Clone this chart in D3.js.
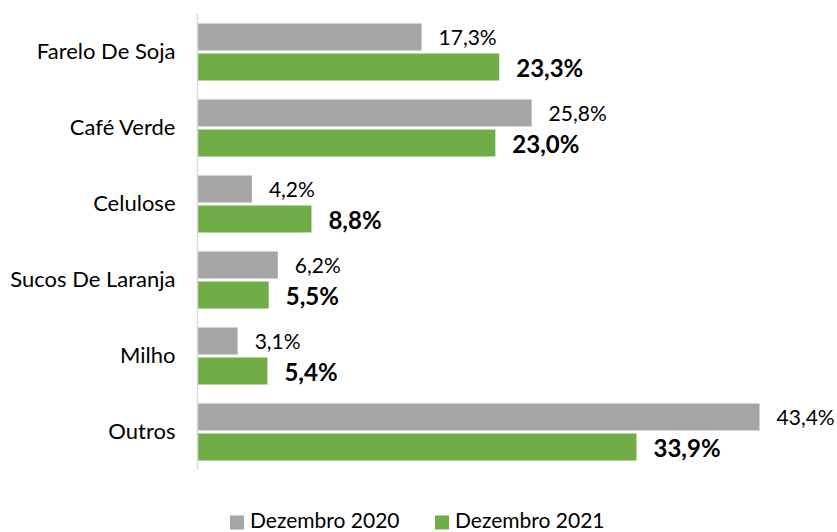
<!DOCTYPE html>
<html><head><meta charset="utf-8">
<script src="https://cdn.jsdelivr.net/npm/d3@7"></script>
<style>body{margin:0;background:#fff}svg{display:block}text{font-family:Lato,"Open Sans",sans-serif;fill:#000}</style>
</head><body><svg id="c" width="837" height="532"></svg>
<script>
const categories = ["Farelo De Soja","Café Verde","Celulose","Sucos De Laranja","Milho","Outros"];
const seriesNames = ["Dezembro 2020","Dezembro 2021"];
const values2020 = [17.3,25.8,4.2,6.2,3.1,43.4];
const values2021 = [23.3,23.0,8.8,5.5,5.4,33.9];
const colors = ["#A5A5A5","#70AD47"];

const svg = d3.select("#c");
const x = d3.scaleLinear().domain([0,50]).range([197.5,197.5+647.5]);
const y0 = d3.scaleBand().domain(categories).range([14,470]).paddingInner(0.25).paddingOuter(0.125);
const y1 = d3.scaleBand().domain(seriesNames).range([0,y0.bandwidth()]).paddingInner(0.1);
const fmt = v => v.toFixed(1).replace(".",",")+"%";

const data = categories.map((c,i)=>({cat:c, vals:[values2020[i],values2021[i]]}));
const g = svg.append("g");
const groups = g.selectAll("g.grp").data(data).join("g").attr("transform",d=>`translate(0,${y0(d.cat)})`);
groups.selectAll("rect").data(d=>d.vals.map((v,j)=>({v,s:seriesNames[j],j}))).join("rect")
  .attr("x",x(0)).attr("y",d=>y1(d.s)).attr("width",d=>x(d.v)-x(0)).attr("height",y1.bandwidth())
  .attr("fill",d=>colors[d.j]);
groups.selectAll("text.lbl").data(d=>d.vals.map((v,j)=>({v,s:seriesNames[j],j}))).join("text")
  .attr("class","lbl")
  .attr("x",d=>x(d.v)+17)
  .attr("y",d=>y1(d.s)+y1.bandwidth()/2+(d.j===0?1:2))
  .attr("dy","0.35em")
  .style("font-size",d=>d.j===0?"21px":"24px")
  .style("font-weight",d=>d.j===0?"normal":"bold")
  .text(d=>fmt(d.v));

// axis
const yAxis = d3.axisLeft(y0).tickSize(0).tickPadding(22);
const ax = svg.append("g").attr("transform",`translate(${x(0)},0)`).call(yAxis);
ax.select(".domain").attr("stroke","#D9D9D9").attr("stroke-width",1.5).attr("d",`M0,14V470`);
ax.selectAll("text").style("font-size","22px").style("font-family","Lato, sans-serif").attr("fill","#000");

// legend
const legX = [230,435];
const leg = svg.append("g");
seriesNames.forEach((s,i)=>{
  leg.append("rect").attr("x",legX[i]).attr("y",515.5).attr("width",14).attr("height",14).attr("fill",colors[i]);
  leg.append("text").attr("x",legX[i]+20).attr("y",521).attr("dy","0.35em").style("font-size","21px").text(s);
});
</script></body></html>
